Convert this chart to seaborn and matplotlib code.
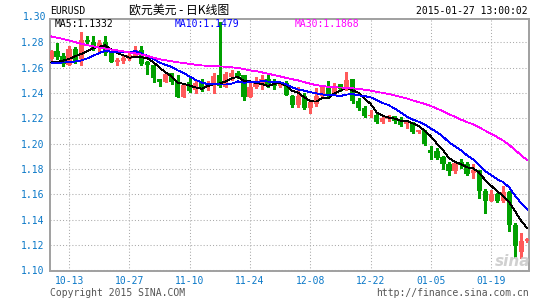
import numpy as np
import pandas as pd
import matplotlib
matplotlib.use("Agg")
import matplotlib.pyplot as plt
import seaborn as sns

# ---------------- data ----------------
dates = pd.bdate_range("2014-10-08", "2015-01-27").strftime("%m-%d").tolist()
tick_labels = ["10-13", "10-27", "11-10", "11-24", "12-08", "12-22", "01-05", "01-19"]
y_ticks = [1.10, 1.12, 1.14, 1.16, 1.18, 1.20, 1.22, 1.24, 1.26, 1.28]

open_ = [1.2664, 1.2732, 1.2690, 1.2624, 1.2748, 1.2664, 1.2818, 1.2800, 1.2761, 1.2800,
         1.2727, 1.2643, 1.2648, 1.2669, 1.2695, 1.2740, 1.2643, 1.2624, 1.2512, 1.2486,
         1.2557, 1.2485, 1.2370, 1.2485, 1.2424, 1.2477, 1.2445, 1.2458, 1.2538, 1.2450,
         1.2525, 1.2557, 1.2544, 1.2365, 1.2445, 1.2472, 1.2512, 1.2480, 1.2458, 1.2477,
         1.2379, 1.2301, 1.2379, 1.2280, 1.2314, 1.2374, 1.2447, 1.2387, 1.2473, 1.2431,
         1.2512, 1.2340, 1.2283, 1.2217, 1.2230, 1.2170, 1.2191, 1.2217, 1.2178, 1.2157,
         1.2156, 1.2091, 1.2104, 1.1947, 1.1942, 1.1894, 1.1841, 1.1788, 1.1854, 1.1841,
         1.1770, 1.1791, 1.1629, 1.1550, 1.1606, 1.1545, 1.1616, 1.1359, 1.1148, 1.1235]
high = [1.2742, 1.2795, 1.2716, 1.2769, 1.2761, 1.2879, 1.2852, 1.2852, 1.2821, 1.2847,
        1.2727, 1.2674, 1.2695, 1.2716, 1.2769, 1.2769, 1.2653, 1.2624, 1.2512, 1.2569,
        1.2557, 1.2538, 1.2466, 1.2525, 1.2498, 1.2512, 1.2495, 1.2557, 1.2960, 1.2565,
        1.2578, 1.2573, 1.2544, 1.2485, 1.2525, 1.2538, 1.2538, 1.2506, 1.2490, 1.2498,
        1.2387, 1.2447, 1.2400, 1.2348, 1.2439, 1.2452, 1.2491, 1.2478, 1.2473, 1.2562,
        1.2512, 1.2360, 1.2300, 1.2269, 1.2249, 1.2212, 1.2230, 1.2222, 1.2212, 1.2186,
        1.2170, 1.2110, 1.2110, 1.1978, 1.1962, 1.1902, 1.1854, 1.1854, 1.1876, 1.1854,
        1.1836, 1.1796, 1.1643, 1.1637, 1.1611, 1.1669, 1.1624, 1.1373, 1.1299, 1.1259]
low = [1.2656, 1.2664, 1.2609, 1.2622, 1.2640, 1.2622, 1.2779, 1.2735, 1.2716, 1.2700,
       1.2643, 1.2622, 1.2635, 1.2661, 1.2682, 1.2622, 1.2551, 1.2486, 1.2454, 1.2486,
       1.2472, 1.2365, 1.2365, 1.2405, 1.2397, 1.2413, 1.2425, 1.2397, 1.2450, 1.2445,
       1.2504, 1.2520, 1.2343, 1.2365, 1.2440, 1.2432, 1.2445, 1.2432, 1.2450, 1.2380,
       1.2290, 1.2290, 1.2270, 1.2238, 1.2296, 1.2361, 1.2369, 1.2380, 1.2413, 1.2426,
       1.2322, 1.2264, 1.2212, 1.2212, 1.2160, 1.2165, 1.2178, 1.2165, 1.2139, 1.2126,
       1.2086, 1.2085, 1.1988, 1.1881, 1.1876, 1.1801, 1.1751, 1.1770, 1.1809, 1.1754,
       1.1730, 1.1571, 1.1457, 1.1545, 1.1537, 1.1537, 1.1314, 1.1095, 1.1095, 1.1227]
close = [1.2732, 1.2687, 1.2630, 1.2748, 1.2651, 1.2818, 1.2800, 1.2755, 1.2795, 1.2714,
         1.2643, 1.2656, 1.2677, 1.2700, 1.2742, 1.2630, 1.2617, 1.2520, 1.2486, 1.2551,
         1.2485, 1.2370, 1.2466, 1.2418, 1.2477, 1.2432, 1.2482, 1.2530, 1.2458, 1.2551,
         1.2557, 1.2536, 1.2370, 1.2450, 1.2480, 1.2512, 1.2458, 1.2458, 1.2480, 1.2386,
         1.2301, 1.2379, 1.2280, 1.2327, 1.2374, 1.2447, 1.2374, 1.2457, 1.2431, 1.2504,
         1.2335, 1.2283, 1.2217, 1.2230, 1.2170, 1.2201, 1.2212, 1.2175, 1.2147, 1.2173,
         1.2091, 1.2104, 1.1994, 1.1929, 1.1884, 1.1836, 1.1788, 1.1849, 1.1831, 1.1764,
         1.1794, 1.1624, 1.1550, 1.1606, 1.1545, 1.1616, 1.1359, 1.1193, 1.1235, 1.1251]

ma5 = [1.2640, 1.2645, 1.2655, 1.2668, 1.2690, 1.2707, 1.2729, 1.2754, 1.2764, 1.2776,
       1.2741, 1.2713, 1.2697, 1.2678, 1.2684, 1.2681, 1.2673, 1.2642, 1.2599, 1.2561,
       1.2532, 1.2482, 1.2472, 1.2458, 1.2443, 1.2433, 1.2455, 1.2468, 1.2476, 1.2491,
       1.2516, 1.2526, 1.2494, 1.2493, 1.2479, 1.2470, 1.2454, 1.2472, 1.2478, 1.2459,
       1.2417, 1.2401, 1.2365, 1.2335, 1.2332, 1.2361, 1.2360, 1.2396, 1.2417, 1.2443,
       1.2420, 1.2402, 1.2354, 1.2314, 1.2247, 1.2220, 1.2206, 1.2198, 1.2181, 1.2182,
       1.2160, 1.2138, 1.2102, 1.2058, 1.2000, 1.1949, 1.1886, 1.1857, 1.1838, 1.1814,
       1.1805, 1.1772, 1.1713, 1.1668, 1.1624, 1.1588, 1.1535, 1.1464, 1.1390, 1.1332]
ma10 = [1.2638, 1.2638, 1.2640, 1.2642, 1.2648, 1.2656, 1.2672, 1.2693, 1.2715, 1.2733,
        1.2724, 1.2721, 1.2726, 1.2721, 1.2730, 1.2711, 1.2693, 1.2669, 1.2639, 1.2622,
        1.2606, 1.2578, 1.2557, 1.2529, 1.2502, 1.2482, 1.2469, 1.2470, 1.2467, 1.2467,
        1.2474, 1.2491, 1.2481, 1.2484, 1.2485, 1.2493, 1.2490, 1.2483, 1.2485, 1.2469,
        1.2443, 1.2427, 1.2418, 1.2406, 1.2396, 1.2389, 1.2381, 1.2381, 1.2376, 1.2387,
        1.2391, 1.2381, 1.2375, 1.2365, 1.2345, 1.2320, 1.2304, 1.2276, 1.2247, 1.2214,
        1.2190, 1.2172, 1.2150, 1.2120, 1.2091, 1.2055, 1.2012, 1.1980, 1.1948, 1.1907,
        1.1877, 1.1829, 1.1785, 1.1753, 1.1719, 1.1697, 1.1654, 1.1588, 1.1529, 1.1479]
ma30 = [1.2846, 1.2836, 1.2825, 1.2813, 1.2801, 1.2788, 1.2777, 1.2767, 1.2758, 1.2750,
        1.2742, 1.2735, 1.2727, 1.2720, 1.2712, 1.2702, 1.2692, 1.2678, 1.2665, 1.2657,
        1.2650, 1.2642, 1.2636, 1.2629, 1.2622, 1.2617, 1.2614, 1.2611, 1.2609, 1.2607,
        1.2602, 1.2597, 1.2588, 1.2578, 1.2572, 1.2562, 1.2551, 1.2541, 1.2530, 1.2519,
        1.2508, 1.2499, 1.2485, 1.2473, 1.2461, 1.2455, 1.2447, 1.2444, 1.2443, 1.2441,
        1.2436, 1.2433, 1.2425, 1.2419, 1.2408, 1.2401, 1.2392, 1.2380, 1.2369, 1.2357,
        1.2341, 1.2327, 1.2314, 1.2297, 1.2277, 1.2255, 1.2232, 1.2212, 1.2190, 1.2170,
        1.2153, 1.2128, 1.2103, 1.2079, 1.2052, 1.2024, 1.1990, 1.1948, 1.1908, 1.1868]

# ---------------- styling ----------------
sns.set_style("white")
plt.rcParams["font.family"] = ["DejaVu Sans Mono", "Noto Sans CJK SC"]

RED = "#ff5a5a"
GREEN = "#00a000"
BLUE_TXT = "#0a78c8"
GRID = "#aaaaaa"
SPINE = "#a0a0a0"

W, H = 545, 300
fig = plt.figure(figsize=(W / 100, H / 100), dpi=100)
fig.patch.set_facecolor("white")
L, R, T, B = 50, 529, 19, 270.5
ax = fig.add_axes([L / W, 1 - B / H, (R - L) / W, (B - T) / H])

n = len(close)
idx = np.arange(n)
o = np.array(open_); c = np.array(close); h = np.array(high); lo = np.array(low)
up = c >= o
cols = np.where(up, RED, GREEN)

ax.vlines(idx, lo, h, colors=cols, linewidth=0.75, antialiased=False, zorder=2)
body_bottom = np.minimum(o, c)
body_h = np.maximum(np.abs(c - o), 0.0002)
ax.bar(idx, body_h, bottom=body_bottom, width=0.86, color=cols, linewidth=0,
       antialiased=False, zorder=3)

df = pd.DataFrame({"i": idx, "MA5": ma5, "MA10": ma10, "MA30": ma30})
long = df.melt("i", var_name="ma", value_name="v")
sns.lineplot(data=long, x="i", y="v", hue="ma",
             palette={"MA5": "black", "MA10": "#0000ff", "MA30": "#ff00ff"},
             linewidth=0.6, legend=False, ax=ax, zorder=4)
for ln in ax.lines:
    ln.set_antialiased(False)
    ln.set_solid_joinstyle("miter")
    ln.set_solid_capstyle("butt")

# axes
px0, step = 51.0, 6.03
ax.set_xlim((L - px0) / step, (R - px0) / step)
ax.set_ylim(1.10, 1.2983)
ax.set_xticks([dates.index(t) for t in tick_labels])
ax.set_xticklabels(tick_labels)
ax.set_yticks(y_ticks)
ax.set_yticklabels([f"{v:.2f}" for v in y_ticks])
ax.set_xlabel(""); ax.set_ylabel("")
ax.grid(True, color=GRID, linestyle=(0, (1, 2)), linewidth=0.75)
ax.set_axisbelow(True)
ax.tick_params(length=0, labelcolor=BLUE_TXT, labelsize=7, pad=4)
for s in ax.spines.values():
    s.set_color(SPINE)
    s.set_linewidth(1.4)
    s.set_visible(True)

def ftext(x, y, s, **kw):
    kw.setdefault("va", "center")
    kw.setdefault("fontsize", 7)
    fig.text(x / W, 1 - y / H, s, **kw)

ftext(46, 16.7, "1.30", ha="right", color=BLUE_TXT)
ftext(50, 11, "EURUSD", ha="left", color="black")
ftext(179, 10.5, "欧元美元 - 日K线图", ha="center", color="black", fontsize=8.6,
      family=["Noto Sans CJK SC", "DejaVu Sans"])
ftext(528, 11, "2015-01-27 13:00:02", ha="right", color="black")
ftext(55, 24, "MA5:1.1332", ha="left", color="black")
ftext(175, 24, "MA10:1.1479", ha="left", color="#0000ff")
ftext(295, 24, "MA30:1.1868", ha="left", color="#ff00ff")
ftext(50, 292.5, "Copyright 2015 SINA.COM", ha="left", color="#555555")
ftext(529, 292.5, "http://finance.sina.com.cn", ha="right", color="#555555")
ftext(513, 262, "sina", ha="center", color="#d0d0d0", fontsize=11,
      style="italic", weight="bold", family=["DejaVu Sans"])

fig.savefig("out.png", dpi=100, facecolor="white")
